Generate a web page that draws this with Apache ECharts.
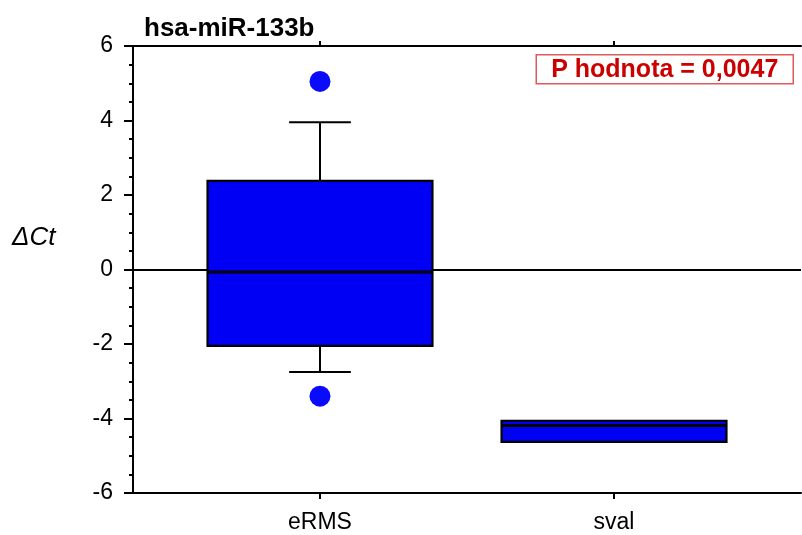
<!DOCTYPE html>
<html>
<head>
<meta charset="utf-8">
<script src="https://cdn.jsdelivr.net/npm/echarts@6/dist/echarts.min.js"></script>
<style>
  html, body { margin: 0; padding: 0; background: #fff; }
  #chart { width: 802px; height: 535px; }
</style>
</head>
<body>
<div id="chart"></div>
<script>
// Groups and their box-plot statistics (ΔCt)
const categories = ['eRMS', 'sval'];
const whiskerLow = [-2.75, -4.63];
const quartile1 = [-2.05, -4.63];
const medians = [-0.07, -4.19];
const quartile3 = [2.38, -4.06];
const whiskerHigh = [3.95, -4.06];

// Points outside the whiskers: [group, value]
const outlierGroups = ['eRMS', 'eRMS'];
const outlierValues = [5.05, -3.40];

const yTicks = [-6, -4, -2, 0, 2, 4, 6];
const pValueText = 'P hodnota = 0,0047';

const FONT = '"Liberation Sans", Arial, sans-serif';
const BOX_BLUE = '#0000f5';

const boxData = categories.map((c, i) => [i + 1, whiskerLow[i], quartile1[i], medians[i], quartile3[i], whiskerHigh[i]]);
const outlierData = outlierGroups.map((g, i) => [categories.indexOf(g) + 1, outlierValues[i]]);
const catPositions = categories.map((c, i) => i + 1);

const chart = echarts.init(document.getElementById('chart'), null, { renderer: 'canvas' });

function renderBox(params, api) {
  const x = api.value(0);
  const pLow = api.coord([x, api.value(1)]);
  const pQ1 = api.coord([x, api.value(2)]);
  const pMed = api.coord([x, api.value(3)]);
  const pQ3 = api.coord([x, api.value(4)]);
  const pHigh = api.coord([x, api.value(5)]);
  const halfBox = api.size([0.765, 0])[0] / 2;
  const halfCap = api.size([0.21, 0])[0] / 2;
  const cx = pMed[0];
  const lineStyle = { stroke: '#000', lineWidth: 2 };
  const children = [];
  if (api.value(1) < api.value(2)) {
    children.push({ type: 'line', shape: { x1: cx, y1: pQ1[1], x2: cx, y2: pLow[1] }, style: lineStyle });
    children.push({ type: 'line', shape: { x1: cx - halfCap, y1: pLow[1], x2: cx + halfCap, y2: pLow[1] }, style: lineStyle });
  }
  if (api.value(5) > api.value(4)) {
    children.push({ type: 'line', shape: { x1: cx, y1: pQ3[1], x2: cx, y2: pHigh[1] }, style: lineStyle });
    children.push({ type: 'line', shape: { x1: cx - halfCap, y1: pHigh[1], x2: cx + halfCap, y2: pHigh[1] }, style: lineStyle });
  }
  children.push({
    type: 'rect',
    shape: { x: cx - halfBox, y: pQ3[1], width: halfBox * 2, height: pQ1[1] - pQ3[1] },
    style: { fill: BOX_BLUE, stroke: '#000', lineWidth: 2.2 }
  });
  children.push({ type: 'line', shape: { x1: cx - halfBox, y1: pMed[1], x2: cx + halfBox, y2: pMed[1] }, style: { stroke: '#000', lineWidth: 3 } });
  return { type: 'group', children };
}

const xRange = { min: 0.364, max: 2.636 };

chart.setOption({
  animation: false,
  backgroundColor: '#fff',
  title: {
    text: 'hsa-miR-133b',
    left: 139,
    top: 11,
    textStyle: { fontFamily: FONT, fontSize: 26, fontWeight: 'bold', color: '#000' }
  },
  grid: { left: 133, right: 1, top: 46, bottom: 42, containLabel: false },
  xAxis: [
    {
      type: 'value',
      position: 'bottom',
      min: xRange.min,
      max: xRange.max,
      axisLine: { show: true, onZero: false, lineStyle: { color: '#000', width: 2 } },
      axisTick: { show: true, inside: false, length: 6, customValues: catPositions, lineStyle: { color: '#000', width: 2 } },
      axisLabel: {
        show: true,
        customValues: catPositions,
        formatter: v => categories[Math.round(v) - 1] || '',
        margin: 18,
        fontFamily: FONT,
        fontSize: 23,
        color: '#000'
      },
      splitLine: { show: false }
    },
    {
      type: 'value',
      position: 'top',
      min: xRange.min,
      max: xRange.max,
      axisLine: { show: true, onZero: false, lineStyle: { color: '#000', width: 2 } },
      axisTick: { show: true, inside: false, length: 5, customValues: catPositions, lineStyle: { color: '#000', width: 2 } },
      axisLabel: { show: false },
      splitLine: { show: false }
    }
  ],
  yAxis: [
    {
      type: 'value',
      position: 'left',
      min: -6,
      max: 6,
      interval: 2,
      axisLine: { show: true, onZero: false, lineStyle: { color: '#000', width: 2 } },
      axisTick: { show: true, inside: false, length: 9, lineStyle: { color: '#000', width: 2 } },
      minorTick: { show: true, splitNumber: 4, length: 4, lineStyle: { color: '#000', width: 2 } },
      axisLabel: {
        show: true,
        margin: 20,
        fontFamily: FONT,
        fontSize: 23,
        color: '#000',
        customValues: yTicks,
        formatter: v => String(v)
      },
      splitLine: { show: false }
    },
    {
      // reference line at ΔCt = 0
      type: 'value',
      position: 'left',
      min: -6,
      max: 6,
      interval: 6,
      axisLine: { show: false },
      axisTick: { show: false },
      axisLabel: { show: false },
      splitLine: { show: true, lineStyle: { color: '#000', width: 2 } }
    }
  ],
  graphic: [
    {
      type: 'text',
      left: 12,
      top: 225,
      style: {
        text: 'ΔCt',
        font: 'italic 26px ' + FONT,
        fill: '#000'
      }
    },
    {
      type: 'group',
      right: 8,
      top: 54,
      children: [
        {
          type: 'rect',
          shape: { x: 0, y: 0, width: 257, height: 29 },
          style: { fill: '#fff', stroke: '#e05a5a', lineWidth: 1.5 }
        },
        {
          type: 'text',
          x: 128.5,
          y: 15,
          style: {
            text: pValueText,
            font: 'bold 25px ' + FONT,
            fill: '#cc0000',
            align: 'center',
            verticalAlign: 'middle'
          }
        }
      ]
    }
  ],
  series: [
    {
      type: 'custom',
      name: 'box',
      xAxisIndex: 0,
      yAxisIndex: 0,
      renderItem: renderBox,
      data: boxData,
      encode: { x: 0, y: [1, 2, 3, 4, 5] },
      z: 3
    },
    {
      type: 'scatter',
      name: 'outliers',
      xAxisIndex: 0,
      yAxisIndex: 0,
      data: outlierData,
      symbol: 'circle',
      symbolSize: 21,
      itemStyle: { color: '#0a0aff', opacity: 1 },
      z: 4
    }
  ]
});
</script>
</body>
</html>
